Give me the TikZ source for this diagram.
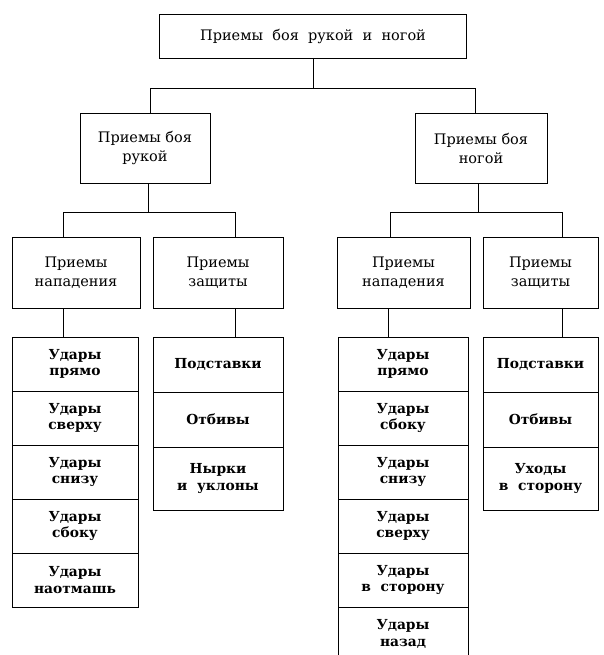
\documentclass[tikz,border=0pt]{standalone}
\usepackage{fontspec}
\setmainfont{DejaVu Serif}
\usetikzlibrary{positioning}

\begin{document}
\begin{tikzpicture}[x=1pt, y=-1pt,
  box/.style={draw, line width=0.9pt, align=center, inner sep=0pt, outer sep=0pt,
    font=\fontsize{14.5}{19}\selectfont},
  leaf/.style={draw, line width=0.9pt, align=center, inner sep=0pt, outer sep=0pt,
    font=\fontsize{13.8}{16.5}\selectfont\bfseries},
  link/.style={line width=0.9pt}]
\useasboundingbox (0,0) rectangle (603,655);
% top box
\node[box, minimum width=307pt, minimum height=44pt] (top) at (313,36) {Приемы\ \ боя\ \ рукой\ \ и\ \ ногой};
% second row: hand / leg
\node[box, minimum width=130pt, minimum height=70pt] (lm) at (145,148) {Приемы боя\\рукой};
\node[box, minimum width=132pt, minimum height=70pt] (rm) at (481,148) {Приемы боя\\ногой};
% third row: attack / defence
\node[box, minimum width=128pt, minimum height=71pt] (ln) at (76,272.5) {Приемы\\нападения};
\node[box, minimum width=130pt, minimum height=71pt] (lz) at (218,272.5) {Приемы\\защиты};
\node[box, minimum width=133pt, minimum height=71pt] (rn) at (403.5,272.5) {Приемы\\нападения};
\node[box, minimum width=115pt, minimum height=71pt] (rz) at (540.5,272.5) {Приемы\\защиты};
% leaves, hand attack
\foreach \t [count=\i] in {{Удары\\прямо},{Удары\\сверху},{Удары\\снизу},{Удары\\сбоку},{Удары\\наотмашь}}
  \node[leaf, minimum width=126pt, minimum height=54pt] (la\i) at (75,310+54*\i) {\t};
% leaves, leg attack
\foreach \t [count=\i] in {{Удары\\прямо},{Удары\\сбоку},{Удары\\снизу},{Удары\\сверху},{Удары\\в\ \ сторону}}
  \node[leaf, minimum width=130pt, minimum height=54pt] (ra\i) at (403,310+54*\i) {\t};
% last one runs off the page, no bottom edge
\node[leaf, draw=none, minimum width=130pt, minimum height=54pt, below=0pt of ra5] (ra6) {Удары\\назад};
\draw[link] (ra6.north west) -- ++(0,60);
\draw[link] (ra6.north east) -- ++(0,60);
% leaves, defence
\node[leaf, minimum width=130pt, minimum height=55pt] (lb1) at (218,364.5) {Подставки};
\node[leaf, minimum width=130pt, minimum height=55pt, below=0pt of lb1] (lb2) {Отбивы};
\node[leaf, minimum width=130pt, minimum height=63pt, below=0pt of lb2] (lb3) {Нырки\\и\ \ уклоны};
\node[leaf, minimum width=115pt, minimum height=55pt] (rb1) at (540.5,364.5) {Подставки};
\node[leaf, minimum width=115pt, minimum height=55pt, below=0pt of rb1] (rb2) {Отбивы};
\node[leaf, minimum width=115pt, minimum height=63pt, below=0pt of rb2] (rb3) {Уходы\\в\ \ сторону};
% connectors
\draw[link] (top.south) -- ++(0,30) coordinate (tbar);
\draw[link] (tbar) -| ([xshift=5pt]lm.north);
\draw[link] (tbar) -| ([xshift=-6pt]rm.north);
\draw[link] ([xshift=3pt]lm.south) -- ++(0,29) coordinate (lbar);
\draw[link] (lbar) -| ([xshift=-13pt]ln.north);
\draw[link] (lbar) -| ([xshift=17pt]lz.north);
\draw[link] ([xshift=-3pt]rm.south) -- ++(0,29) coordinate (rbar);
\draw[link] (rbar) -| ([xshift=-13.5pt]rn.north);
\draw[link] (rbar) -| ([xshift=21.5pt]rz.north);
\draw[link] ([xshift=-13pt]ln.south) -- ([xshift=-12pt]la1.north);
\draw[link] ([xshift=17pt]lz.south) -- ([xshift=17pt]lb1.north);
\draw[link] ([xshift=-15.5pt]rn.south) -- ([xshift=-15pt]ra1.north);
\draw[link] ([xshift=21.5pt]rz.south) -- ([xshift=21.5pt]rb1.north);
\end{tikzpicture}
\end{document}
